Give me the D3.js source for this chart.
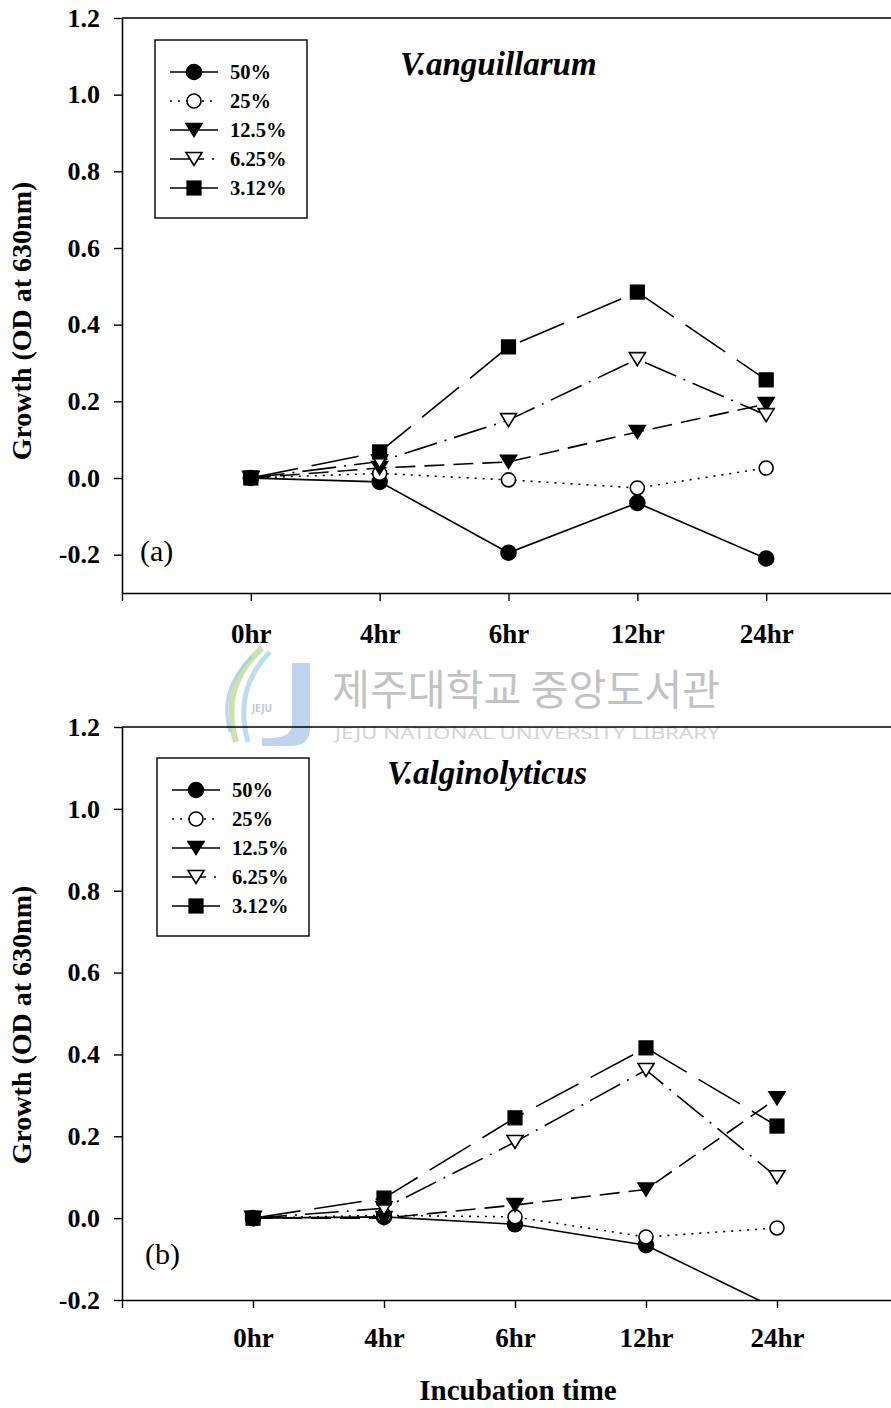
<!DOCTYPE html>
<html>
<head>
<meta charset="utf-8">
<script src="https://cdn.jsdelivr.net/npm/d3@7"></script>
<style>
  html, body { margin: 0; padding: 0; background: #fff; }
  svg { display: block; font-family: "Liberation Serif", "Times New Roman", serif; }
</style>
</head>
<body>
<svg id="chart" width="891" height="1408"></svg>
<script>
// Incubation time points and concentrations
const hours = ["0hr", "4hr", "6hr", "12hr", "24hr"];
const concentrations = ["50%", "25%", "12.5%", "6.25%", "3.12%"];
const yTicks = [-0.2, 0.0, 0.2, 0.4, 0.6, 0.8, 1.0, 1.2];

// Growth (OD at 630nm), V. anguillarum
const angu50  = [0, -0.01, -0.195, -0.065, -0.21];
const angu25  = [0, 0.012, -0.005, -0.026, 0.026];
const angu125 = [0, 0.026, 0.042, 0.12, 0.193];
const angu625 = [0, 0.043, 0.151, 0.31, 0.164];
const angu312 = [0, 0.068, 0.342, 0.485, 0.256];

// Growth (OD at 630nm), V. alginolyticus
const algi50  = [0, 0.003, -0.015, -0.066, -0.222];
const algi25  = [0, 0.007, 0.003, -0.046, -0.024];
const algi125 = [0, 0.0, 0.032, 0.07, 0.293];
const algi625 = [0, 0.024, 0.186, 0.362, 0.1];
const algi312 = [0, 0.049, 0.245, 0.416, 0.225];

// line and marker style per concentration
const styles = {
  "50%":   { dash: null,        marker: "circle",   filled: true },
  "25%":   { dash: "2,6",       marker: "circle",   filled: false },
  "12.5%": { dash: "20,9",      marker: "triangle", filled: true },
  "6.25%": { dash: "34,8,2,8",  marker: "triangle", filled: false },
  "3.12%": { dash: "48,14",     marker: "square",   filled: true }
};

// tick numbers with a plain hyphen for negatives
const fmt = d3.formatLocale({ decimal: ".", thousands: ",", grouping: [3], currency: ["", ""], minus: "-" }).format(".1f");

const svg = d3.select("#chart");
const defs = svg.append("defs");

function drawMarker(g, type, filled, cx, cy) {
  const fill = filled ? "#000" : "#fff";
  if (type === "circle") {
    g.append("circle").attr("cx", cx).attr("cy", cy).attr("r", filled ? 7.5 : 7)
      .attr("fill", fill).attr("stroke", "#000").attr("stroke-width", 1.6);
  } else if (type === "triangle") {
    const w = 8, h = 13;
    g.append("path")
      .attr("d", `M${cx - w},${cy - h / 2}L${cx + w},${cy - h / 2}L${cx},${cy + h / 2}Z`)
      .attr("fill", fill).attr("stroke", "#000").attr("stroke-width", 1.6)
      .attr("stroke-linejoin", "miter");
  } else {
    g.append("rect").attr("x", cx - 7).attr("y", cy - 7).attr("width", 14).attr("height", 14)
      .attr("fill", fill).attr("stroke", "#000").attr("stroke-width", 1.2);
  }
}

function panel(cfg) {
  const g = svg.append("g");
  const x = d3.scaleLinear().domain([-1, 5]).range([122, cfg.xEnd]);
  const y = d3.scaleLinear().domain(cfg.yDomain).range([cfg.bottom, cfg.top]);

  // plot frame: top border
  g.append("line").attr("x1", 122).attr("x2", 891).attr("y1", cfg.top).attr("y2", cfg.top)
    .attr("stroke", "#000").attr("stroke-width", 1.6);

  // y axis
  const ya = g.append("g").attr("transform", "translate(122,0)")
    .call(d3.axisLeft(y).tickValues(yTicks.filter(v => v >= cfg.yDomain[0]))
      .tickFormat(fmt).tickSize(8).tickSizeOuter(0).tickPadding(14));
  ya.select(".domain").attr("stroke-width", 1.6);
  ya.selectAll(".tick line").attr("stroke-width", 1.4);
  ya.selectAll(".tick text").attr("font-size", 26).attr("font-weight", "bold")
    .style("font-family", "'Liberation Serif', serif").attr("fill", "#000");

  // x axis
  const xa = g.append("g").attr("transform", `translate(0,${cfg.bottom})`)
    .call(d3.axisBottom(x).tickValues([-1, 0, 1, 2, 3, 4])
      .tickFormat(i => i < 0 ? "" : hours[i]).tickSize(8).tickSizeOuter(0).tickPadding(cfg.xPad));
  xa.select(".domain").attr("stroke-width", 1.6);
  xa.selectAll(".tick line").attr("stroke-width", 1.4);
  xa.selectAll(".tick text").attr("font-size", 27).attr("font-weight", "bold")
    .style("font-family", "'Liberation Serif', serif").attr("fill", "#000");

  // y axis title
  g.append("text")
    .attr("transform", `translate(31,${cfg.titleY}) rotate(-90)`)
    .attr("text-anchor", "middle").attr("font-size", 28).attr("font-weight", "bold")
    .text("Growth (OD at 630nm)");

  // panel title and tag
  g.append("text").attr("x", cfg.nameX).attr("y", cfg.nameY)
    .attr("font-size", 33).attr("font-weight", "bold").attr("font-style", "italic")
    .text(cfg.name);
  g.append("text").attr("x", cfg.tagX).attr("y", cfg.tagY)
    .attr("font-size", 30).text(cfg.tag);

  // data series, clipped to the plotting area
  const clipId = "clip-" + cfg.tag.replace(/[()]/g, "");
  defs.append("clipPath").attr("id", clipId).append("rect")
    .attr("x", 122).attr("y", cfg.top).attr("width", 891 - 122).attr("height", cfg.bottom - cfg.top);
  const plot = g.append("g").attr("clip-path", `url(#${clipId})`);
  const line = d3.line().x((d, i) => x(i)).y(d => y(d));

  cfg.series.forEach((vals, k) => {
    const st = styles[concentrations[k]];
    plot.append("path").attr("d", line(vals)).attr("fill", "none")
      .attr("stroke", "#000").attr("stroke-width", 1.6)
      .attr("stroke-dasharray", st.dash);
  });
  cfg.series.forEach((vals, k) => {
    const st = styles[concentrations[k]];
    vals.forEach((v, i) => drawMarker(plot, st.marker, st.filled, x(i), y(v)));
  });

  // legend
  const lg = g.append("g");
  lg.append("rect").attr("x", cfg.legX).attr("y", cfg.legY).attr("width", 152).attr("height", 178)
    .attr("fill", "#fff").attr("stroke", "#000").attr("stroke-width", 1.4);
  concentrations.forEach((c, k) => {
    const st = styles[c];
    const cy = cfg.legY + 32 + k * 29;
    const lx = cfg.legX + 15;
    lg.append("line").attr("x1", lx).attr("x2", lx + 48).attr("y1", cy).attr("y2", cy)
      .attr("stroke", "#000").attr("stroke-width", 1.6).attr("stroke-dasharray", st.dash);
    drawMarker(lg, st.marker, st.filled, lx + 24, cy);
    lg.append("text").attr("x", lx + 60).attr("y", cy + 7)
      .attr("font-size", 20.5).attr("font-weight", "bold").text(c);
  });
}

// library watermark between the panels
const wm = svg.append("g");
wm.append("path").attr("d", "M262,648 C236,672 224,700 236,742")
  .attr("fill", "none").attr("stroke", "#bcdc96").attr("stroke-width", 6).attr("opacity", 0.8);
wm.append("path").attr("d", "M270,652 C246,676 238,706 248,742")
  .attr("fill", "none").attr("stroke", "#a8d4ee").attr("stroke-width", 5).attr("opacity", 0.8);
wm.append("path").attr("d", "M252,656 C228,680 222,706 230,732")
  .attr("fill", "none").attr("stroke", "#9cc8e8").attr("stroke-width", 3).attr("opacity", 0.7);
wm.append("path").attr("d", "M292,663 L310,663 L310,728 Q310,746 290,746 L262,746 L262,738 Q292,740 292,724 Z")
  .attr("fill", "#b4cceb").attr("opacity", 0.85);
wm.append("text").attr("x", 262).attr("y", 712).attr("text-anchor", "middle")
  .style("font-family", "'Noto Sans', sans-serif").attr("font-size", 10).attr("font-weight", "bold")
  .attr("fill", "#b8c8dc").text("JEJU");
wm.append("text").attr("x", 332).attr("y", 705)
  .style("font-family", "'Noto Sans CJK KR', sans-serif").attr("font-size", 42)
  .attr("textLength", 388).attr("lengthAdjust", "spacingAndGlyphs")
  .attr("fill", "#c2c2c2").text("제주대학교 중앙도서관");
wm.append("text").attr("x", 335).attr("y", 739)
  .style("font-family", "'Noto Sans', sans-serif").attr("font-size", 16)
  .attr("textLength", 385).attr("lengthAdjust", "spacingAndGlyphs")
  .attr("fill", "#d4d4d4").text("JEJU NATIONAL UNIVERSITY  LIBRARY");

panel({
  top: 18, bottom: 593, yDomain: [-0.3, 1.2], xEnd: 895, xPad: 23,
  titleY: 321, name: "V.anguillarum", nameX: 400, nameY: 75,
  tag: "(a)", tagX: 140, tagY: 561, legX: 155, legY: 40,
  series: [angu50, angu25, angu125, angu625, angu312]
});

panel({
  top: 727, bottom: 1300, yDomain: [-0.2, 1.2], xEnd: 908, xPad: 20,
  titleY: 1025, name: "V.alginolyticus", nameX: 387, nameY: 784,
  tag: "(b)", tagX: 145, tagY: 1264, legX: 157, legY: 758,
  series: [algi50, algi25, algi125, algi625, algi312]
});

// shared x axis title
svg.append("text").attr("x", 518).attr("y", 1400).attr("text-anchor", "middle")
  .attr("font-size", 29).attr("font-weight", "bold").text("Incubation time");
</script>
</body>
</html>
